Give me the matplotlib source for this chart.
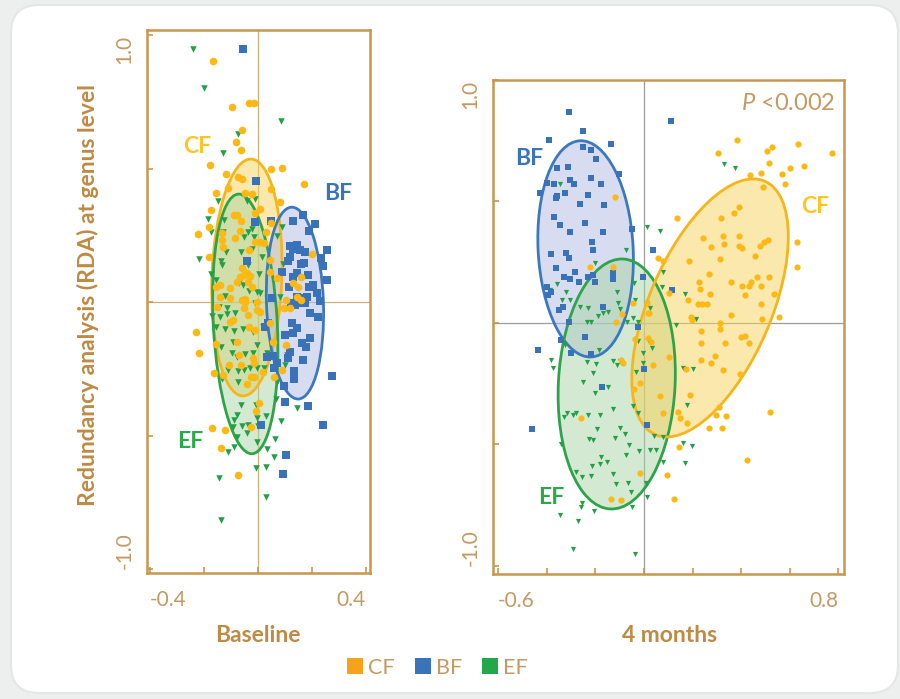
import numpy as np
import matplotlib
matplotlib.use("Agg")
import matplotlib.pyplot as plt
from matplotlib.patches import Ellipse, FancyBboxPatch
from matplotlib.lines import Line2D

plt.rcParams['font.family'] = ['Lato', 'DejaVu Sans']
plt.rcParams['mathtext.fontset'] = 'custom'
plt.rcParams['mathtext.it'] = 'Lato:italic'
plt.rcParams['mathtext.rm'] = 'Lato'

# ---------------- data: RDA scores, baseline ----------------
base_cf = [(-0.167, 0.904), (-0.097, 0.729), (-0.032, 0.746), (-0.015, 0.744), (-0.060, 0.644),
           (-0.081, 0.600), (-0.064, 0.569), (-0.177, 0.514), (0.047, 0.499), (0.090, 0.503),
           (-0.119, 0.479), (-0.073, 0.469), (-0.060, 0.460), (0.169, 0.441), (-0.110, 0.426),
           (0.048, 0.422), (-0.156, 0.407), (-0.047, 0.409), (-0.023, 0.404), (0.081, 0.376),
           (-0.173, 0.343), (-0.088, 0.326), (-0.079, 0.326), (-0.012, 0.334), (0.009, 0.347),
           (-0.180, 0.282), (-0.063, 0.302), (0.048, 0.295), (-0.221, 0.255), (-0.133, 0.257),
           (-0.066, 0.266), (0.029, 0.263), (-0.134, 0.232), (-0.085, 0.239), (-0.010, 0.226),
           (0.007, 0.226), (0.023, 0.220), (-0.130, 0.207), (-0.033, 0.195), (-0.180, 0.170),
           (0.201, 0.179), (0.044, 0.157), (-0.060, 0.126), (-0.042, 0.107), (-0.030, 0.097),
           (-0.051, 0.101), (0.044, 0.113), (0.069, 0.091), (0.159, 0.095), (0.130, 0.070),
           (-0.067, 0.095), (-0.077, 0.076), (-0.141, 0.064), (-0.104, 0.051), (-0.036, 0.076),
           (-0.023, 0.057), (-0.141, 0.020), (-0.104, 0.016), (-0.060, 0.007), (-0.047, 0.011),
           (0.149, 0.057), (0.143, 0.020), (0.159, 0.007), (0.104, 0.007), (-0.156, 0.057),
           (-0.231, -0.111), (-0.220, -0.192), (-0.156, -0.158), (-0.051, -0.024), (-0.036, -0.049),
           (-0.005, -0.030), (0.007, -0.036), (-0.104, -0.074), (-0.091, -0.067), (-0.032, -0.093),
           (-0.011, -0.105), (-0.077, -0.149), (-0.069, -0.199), (-0.017, -0.211), (-0.015, -0.227),
           (-0.109, -0.236), (-0.064, -0.236), (-0.162, -0.267), (-0.131, -0.273), (0.017, -0.262),
           (-0.027, -0.282), (-0.015, -0.280), (-0.042, -0.307), (0.057, -0.149), (0.104, -0.161),
           (0.059, -0.280), (0.088, -0.255), (0.003, -0.377), (-0.007, -0.407), (-0.027, -0.467),
           (-0.169, -0.471), (-0.121, -0.479), (-0.137, -0.546), (-0.073, -0.648), (0.044, -0.080),
           (0.097, -0.024), (0.119, -0.024), (-0.151, -0.020), (-0.005, 0.001), (-0.048, 0.001)]

base_bf = [(-0.054, 0.948), (-0.006, 0.453), (-0.010, 0.300), (0.047, 0.302), (0.131, 0.304),
           (0.167, 0.326), (0.211, 0.293), (0.188, 0.265), (0.119, 0.210), (0.131, 0.200),
           (0.143, 0.213), (0.156, 0.195), (0.175, 0.186), (0.256, 0.195), (0.233, 0.166),
           (0.242, 0.135), (0.170, 0.145), (0.158, 0.141), (0.110, 0.154), (0.119, 0.170),
           (-0.040, 0.154), (0.088, 0.113), (0.143, 0.107), (0.131, 0.095), (0.184, 0.101),
           (0.254, 0.082), (0.188, 0.057), (0.205, 0.064), (0.217, 0.035), (0.115, 0.057),
           (0.143, 0.020), (0.156, 0.014), (0.180, 0.020), (0.230, 0.004), (0.053, 0.016),
           (0.123, -0.005), (0.137, -0.011), (0.193, -0.040), (0.223, -0.057), (0.125, -0.078),
           (0.146, -0.099), (0.100, -0.124), (0.131, -0.117), (0.193, -0.136), (0.162, -0.155),
           (0.178, -0.170), (0.119, -0.186), (0.112, -0.211), (0.166, -0.217), (0.032, -0.205),
           (0.057, -0.202), (0.069, -0.230), (0.059, -0.248), (0.134, -0.257), (0.134, -0.290),
           (0.096, -0.315), (0.038, -0.080), (0.026, -0.093), (0.149, -0.005), (0.174, -0.005),
           (0.100, -0.373), (0.186, -0.388), (0.275, -0.276), (0.242, -0.462), (0.010, -0.460),
           (0.104, -0.573), (0.094, -0.644)]

base_ef = [(-0.240, 0.946), (-0.200, 0.800), (0.086, 0.679), (-0.074, 0.628), (-0.131, 0.559),
           (-0.148, 0.377), (-0.010, 0.385), (-0.042, 0.379), (-0.127, 0.307), (-0.186, 0.310),
           (0.089, 0.280), (-0.175, 0.263), (-0.129, 0.262), (-0.038, 0.263), (-0.023, 0.273),
           (-0.052, 0.242), (-0.015, 0.242), (0.069, 0.247), (-0.219, 0.161), (-0.120, 0.186),
           (-0.063, 0.186), (-0.023, 0.199), (0.015, 0.167), (-0.138, 0.154), (-0.134, 0.139),
           (0.126, 0.185), (0.094, 0.141), (-0.037, 0.139), (0.003, 0.105), (-0.175, 0.105),
           (-0.156, 0.082), (-0.151, 0.057), (-0.071, 0.070), (-0.054, 0.064), (-0.005, 0.039),
           (0.007, 0.033), (-0.033, 0.040), (-0.121, 0.022), (0.081, 0.020), (-0.010, -0.003),
           (-0.143, -0.018), (-0.116, -0.024), (-0.171, -0.051), (-0.141, -0.055), (-0.116, -0.045),
           (-0.085, -0.040), (-0.156, -0.095), (-0.121, -0.102), (-0.088, -0.107), (-0.054, -0.102),
           (-0.020, -0.111), (0.020, -0.093), (-0.091, -0.149), (-0.136, -0.167), (-0.005, -0.161),
           (-0.097, -0.192), (-0.077, -0.205), (-0.048, -0.195), (-0.020, -0.190), (0.034, -0.192),
           (-0.110, -0.255), (-0.075, -0.258), (-0.052, -0.255), (-0.030, -0.248), (-0.005, -0.248),
           (0.022, -0.246), (-0.134, -0.290), (-0.075, -0.299), (0.106, -0.199), (0.100, -0.236),
           (0.069, -0.299), (0.067, -0.364), (-0.063, -0.387), (-0.007, -0.386), (-0.079, -0.423),
           (-0.089, -0.442), (-0.003, -0.436), (0.030, -0.427), (0.084, -0.445), (-0.094, -0.467),
           (-0.060, -0.464), (-0.036, -0.461), (0.001, -0.464), (-0.079, -0.504), (-0.042, -0.492),
           (-0.088, -0.542), (-0.005, -0.523), (-0.112, -0.561), (0.034, -0.551), (0.063, -0.514),
           (0.058, -0.579), (-0.007, -0.623), (0.030, -0.617), (0.143, -0.398), (-0.143, -0.660),
           (0.029, -0.729), (-0.138, -0.816)]

# ---------------- data: RDA scores, 4 months ----------------
m4_cf = [(0.383, 0.752), (0.303, 0.701), (0.505, 0.709), (0.528, 0.726), (0.633, 0.735),
         (0.514, 0.657), (0.437, 0.609), (0.480, 0.619), (0.569, 0.614), (0.602, 0.639),
         (0.660, 0.647), (0.581, 0.572), (0.491, 0.561), (0.775, 0.698), (0.137, 0.431),
         (0.316, 0.431), (0.372, 0.454), (0.392, 0.479), (0.242, 0.349), (0.325, 0.359),
         (0.392, 0.358), (0.274, 0.314), (0.330, 0.324), (0.392, 0.318), (0.405, 0.310),
         (0.479, 0.318), (0.494, 0.332), (0.512, 0.342), (0.631, 0.335), (0.313, 0.263),
         (0.186, 0.255), (0.458, 0.276), (0.631, 0.232), (0.269, 0.200), (0.464, 0.191),
         (0.513, 0.191), (0.225, 0.167), (0.230, 0.140), (0.358, 0.170), (0.402, 0.153),
         (0.432, 0.153), (0.439, 0.170), (0.480, 0.152), (0.273, 0.118), (0.416, 0.116),
         (0.536, 0.121), (0.182, 0.095), (0.223, 0.078), (0.237, 0.078), (0.258, 0.078),
         (0.483, 0.077), (0.059, 0.266), (0.077, 0.255), (0.104, 0.125), (0.021, 0.042),
         (0.193, 0.026), (0.198, 0.012), (0.358, 0.032), (0.484, 0.015), (0.557, 0.026),
         (0.313, 0.001), (-0.047, 0.084), (0.011, 0.081), (-0.116, 0.005), (0.028, -0.077),
         (0.018, -0.063), (-0.037, -0.066), (-0.096, -0.152), (-0.085, -0.163), (0.104, -0.139),
         (0.038, -0.173), (-0.016, -0.248), (-0.040, -0.273), (0.233, -0.033), (0.233, -0.081),
         (0.313, -0.026), (0.333, -0.081), (0.399, -0.056), (0.416, -0.053), (0.431, -0.084),
         (0.292, -0.136), (0.233, -0.152), (0.274, -0.163), (0.172, -0.191), (0.326, -0.193),
         (0.395, -0.210), (0.066, -0.299), (0.188, -0.296), (0.139, -0.365), (0.149, -0.392),
         (0.077, -0.372), (0.178, -0.413), (0.310, -0.347), (0.296, -0.379), (0.336, -0.383),
         (0.269, -0.433), (0.322, -0.431), (0.519, -0.365), (0.145, -0.512), (0.425, -0.564),
         (-0.016, -0.619), (0.095, -0.626), (0.123, -0.726), (-0.136, -0.724), (-0.096, -0.728),
         (-0.260, -0.392), (-0.118, 0.517), (-0.222, 0.229), (-0.129, 0.229), (-0.092, 0.037),
         (0.018, 0.042)]

m4_bf = [(-0.310, 0.870), (-0.250, 0.791), (-0.391, 0.752), (-0.137, 0.737), (0.110, 0.831),
         (-0.250, 0.723), (-0.219, 0.712), (-0.198, 0.674), (-0.358, 0.638), (-0.313, 0.641),
         (-0.102, 0.612), (-0.305, 0.588), (-0.288, 0.572), (-0.219, 0.595), (-0.177, 0.572),
         (-0.400, 0.575), (-0.370, 0.572), (-0.324, 0.536), (-0.358, 0.523), (-0.362, 0.513),
         (-0.427, 0.535), (-0.232, 0.528), (-0.265, 0.488), (-0.163, 0.486), (-0.369, 0.437),
         (-0.347, 0.402), (-0.243, 0.412), (-0.305, 0.373), (-0.167, 0.374), (-0.049, 0.387),
         (-0.213, 0.335), (-0.209, 0.299), (-0.381, 0.285), (-0.321, 0.287), (-0.307, 0.266),
         (-0.362, 0.225), (-0.284, 0.211), (-0.329, 0.191), (-0.305, 0.180), (-0.266, 0.167),
         (-0.229, 0.191), (-0.209, 0.198), (-0.202, 0.167), (-0.126, 0.205), (-0.126, 0.180),
         (-0.005, 0.188), (0.038, 0.300), (-0.400, 0.149), (-0.394, 0.115), (-0.384, 0.129),
         (-0.351, 0.053), (-0.335, 0.065), (-0.307, 0.003), (-0.167, 0.065), (-0.025, -0.015),
         (0.116, 0.136), (-0.342, -0.070), (-0.242, -0.056), (-0.435, -0.111), (-0.302, -0.125),
         (-0.219, -0.128), (0.001, -0.189), (-0.174, -0.262), (-0.460, -0.437), (0.011, -0.420)]

m4_ef = [(-0.344, 0.571), (0.330, 0.654), (0.373, 0.639), (0.014, 0.396), (0.067, 0.380),
         (-0.075, 0.300), (-0.202, 0.248), (-0.357, 0.160), (-0.321, 0.129), (-0.387, 0.136),
         (-0.337, 0.095), (-0.305, 0.095), (-0.112, 0.129), (-0.037, 0.095), (-0.106, 0.081),
         (-0.099, 0.056), (-0.147, 0.047), (-0.167, 0.040), (-0.188, 0.029), (-0.229, 0.060),
         (-0.263, 0.065), (0.077, 0.211), (-0.071, 0.005), (-0.044, 0.019), (0.011, 0.081),
         (0.073, 0.149), (0.169, 0.119), (0.213, 0.015), (0.132, -0.008), (-0.041, 0.166),
         (-0.219, 0.005), (-0.236, 0.005), (-0.023, 0.005), (0.025, 0.060), (-0.325, -0.092),
         (-0.383, -0.152), (-0.376, -0.186), (-0.236, -0.159), (-0.198, -0.169), (-0.185, -0.111),
         (-0.129, -0.155), (-0.112, -0.173), (-0.099, -0.155), (-0.023, -0.073), (0.033, -0.104),
         (0.015, -0.070), (-0.004, -0.125), (-0.005, -0.166), (-0.211, -0.205), (-0.034, -0.200),
         (-0.252, -0.242), (-0.200, -0.289), (-0.147, -0.262), (-0.044, -0.340), (-0.023, -0.372),
         (0.162, -0.186), (0.203, -0.191), (0.176, -0.337), (-0.318, -0.372), (-0.291, -0.379),
         (-0.229, -0.379), (-0.181, -0.379), (-0.281, -0.369), (-0.328, -0.388), (-0.192, -0.435),
         (-0.129, -0.355), (-0.099, -0.431), (-0.078, -0.458), (-0.119, -0.472), (-0.228, -0.479),
         (-0.209, -0.481), (-0.342, -0.499), (-0.063, -0.503), (-0.022, -0.527), (0.023, -0.523),
         (-0.075, -0.543), (-0.178, -0.550), (-0.153, -0.571), (-0.182, -0.580), (-0.213, -0.587),
         (0.077, -0.573), (0.169, -0.577), (-0.281, -0.612), (-0.256, -0.633), (-0.219, -0.628),
         (-0.126, -0.621), (-0.116, -0.664), (-0.065, -0.657), (0.008, -0.657), (-0.052, -0.697),
         (0.011, -0.715), (-0.254, -0.740), (-0.260, -0.758), (-0.205, -0.772), (-0.051, -0.756),
         (-0.346, -0.790), (-0.270, -0.814), (-0.293, -0.930), (-0.037, -0.952), (0.162, -0.495),
         (0.196, -0.505), (0.041, -0.465), (0.079, -0.468), (0.049, -0.523)]

# group ellipses: centre x, centre y, width, height, angle (deg)
base_ellipses = {
    'CF': (-0.041, 0.092, 0.259, 0.888, -2.0),
    'EF': (-0.047, -0.082, 0.237, 0.974, 3.0),
    'BF': (0.137, -0.004, 0.211, 0.719, 2.0),
}
m4_ellipses = {
    'BF': (-0.240, 0.305, 0.391, 0.891, 3.0),
    'EF': (-0.112, -0.251, 0.480, 1.030, -3.0),
    'CF': (0.272, 0.062, 1.136, 0.502, 66.7),
}

groups = ['CF', 'BF', 'EF']
legend_colors = ['#F7A21B', '#3B73BA', '#22A84A']
point_colors = {'CF': '#FDB813', 'BF': '#3A72BA', 'EF': '#22A046'}
markers = {'CF': 'o', 'BF': 's', 'EF': 'v'}
edge_colors = {'CF': '#F6B51A', 'BF': '#3B78C0', 'EF': '#2DA44A'}
fill_colors = {'CF': '#F9D35A', 'BF': '#B0BBE2', 'EF': '#A8D5A5'}
label_colors = {'CF': '#FFC425', 'BF': '#3A74BC', 'EF': '#2AA84A'}

TAN = '#C9964F'
TAN_TEXT = '#C39A63'
TAN_BOLD = '#BE8A44'

fig = plt.figure(figsize=(9, 6.99), dpi=100, facecolor='#EDEFEE')

# white rounded card behind the panels
bg = fig.add_axes([0, 0, 1, 1], zorder=-10)
bg.set_xlim(0, 900)
bg.set_ylim(699, 0)
bg.axis('off')
bg.add_patch(FancyBboxPatch((11, 5), 887, 688, boxstyle='round,pad=0,rounding_size=28',
                            facecolor='white', edgecolor='#E4E7E6', linewidth=1.5))


def style_axes(ax, xt, yt, xlim, ylim, zero_color):
    ax.set_xlim(*xlim)
    ax.set_ylim(*ylim)
    ax.set_facecolor('white')
    for s in ax.spines.values():
        s.set_color(TAN)
        s.set_linewidth(1.8)
    ax.axhline(0, color=zero_color, lw=0.9, zorder=0.5)
    ax.axvline(0, color=zero_color, lw=0.9, zorder=0.5)
    ax.set_xticks(xt)
    ax.set_yticks(yt)
    xl = ['%.1f' % xt[0]] + [''] * (len(xt) - 2) + ['%.1f' % xt[-1]]
    yl = ['%.1f' % yt[0]] + [''] * (len(yt) - 2) + ['%.1f' % yt[-1]]
    ax.set_xticklabels(xl)
    ax.set_yticklabels(yl, rotation=90)
    ax.tick_params(direction='in', length=4, width=1.2, color=TAN, labelcolor=TAN_TEXT,
                   labelsize=15)
    ax.tick_params(axis='x', pad=12)
    ax.tick_params(axis='y', pad=9)
    xls = ax.get_xticklabels()
    xls[0].set_ha('left')
    xls[-1].set_ha('right')
    yls = ax.get_yticklabels()
    yls[0].set_va('bottom')
    yls[-1].set_va('top')


def draw_panel(ax, data, ellipses, msize):
    for g, (cx, cy, w, h, ang) in ellipses.items():
        ax.add_patch(Ellipse((cx, cy), w, h, angle=ang, facecolor=fill_colors[g],
                             alpha=0.5, edgecolor='none', zorder=1))
    for g, (cx, cy, w, h, ang) in ellipses.items():
        ax.add_patch(Ellipse((cx, cy), w, h, angle=ang, facecolor='none',
                             edgecolor=edge_colors[g], lw=2.0, zorder=2))
    for g in ['EF', 'BF', 'CF']:
        pts = np.array(data[g])
        ax.scatter(pts[:, 0], pts[:, 1], s=msize[g], marker=markers[g],
                   color=point_colors[g], linewidths=0, zorder=3)


# ---- baseline panel ----
ax1 = fig.add_axes([147 / 900, 1 - 573 / 699, 223 / 900, 543 / 699])
style_axes(ax1, [-0.4, -0.2, 0, 0.2, 0.4], [-1.0, -0.5, 0, 0.5, 1.0],
           (-0.411, 0.415), (-1.015, 1.019), '#CFAE7E')
draw_panel(ax1, {'CF': base_cf, 'BF': base_bf, 'EF': base_ef}, base_ellipses,
           {'CF': 30, 'BF': 27, 'EF': 22})
for g, (x, y) in {'CF': (-0.226, 0.584), 'BF': (0.296, 0.408), 'EF': (-0.252, -0.521)}.items():
    ax1.text(x, y, g, color=label_colors[g], fontsize=16.5, fontweight='bold',
             ha='center', va='center', zorder=4)

# ---- 4 months panel ----
ax2 = fig.add_axes([493 / 900, 1 - 574 / 699, 351 / 900, 494 / 699])
style_axes(ax2, [-0.6, -0.4, -0.2, 0, 0.2, 0.4, 0.6, 0.8], [-1.0, -0.5, 0, 0.5, 1.0],
           (-0.621, 0.823), (-1.033, 1.0), '#9C9C9C')
draw_panel(ax2, {'CF': m4_cf, 'BF': m4_bf, 'EF': m4_ef}, m4_ellipses,
           {'CF': 20, 'BF': 20, 'EF': 14})
for g, (x, y) in {'BF': (-0.473, 0.675), 'CF': (0.704, 0.481), 'EF': (-0.383, -0.720)}.items():
    ax2.text(x, y, g, color=label_colors[g], fontsize=16.5, fontweight='bold',
             ha='center', va='center', zorder=4)
ax2.text(0.975, 0.953, r'$P$ <0.002', transform=ax2.transAxes, ha='right', va='center',
         fontsize=17, color=TAN_TEXT)

# ---- axis titles ----
fig.text(258 / 900, 1 - 636 / 699, 'Baseline', ha='center', va='center',
         fontsize=16.5, fontweight='bold', color=TAN_BOLD)
fig.text(670 / 900, 1 - 636 / 699, '4 months', ha='center', va='center',
         fontsize=16.5, fontweight='bold', color=TAN_BOLD)
fig.text(88 / 900, 1 - 295 / 699, 'Redundancy analysis (RDA) at genus level', rotation=90,
         ha='center', va='center', fontsize=16.5, fontweight='bold', color=TAN_BOLD)

# ---- legend ----
handles = [Line2D([], [], marker='s', ls='none', markersize=11, color=c, markeredgewidth=0)
           for c in legend_colors]
leg = fig.legend(handles, groups, loc='center', bbox_to_anchor=(437 / 900, 1 - 668 / 699),
                 ncol=3, frameon=False, handletextpad=0.2, columnspacing=0.9,
                 handlelength=0.8, fontsize=15.5)
for t in leg.get_texts():
    t.set_color(TAN_TEXT)

fig.savefig('out.png', dpi=100, facecolor=fig.get_facecolor())
